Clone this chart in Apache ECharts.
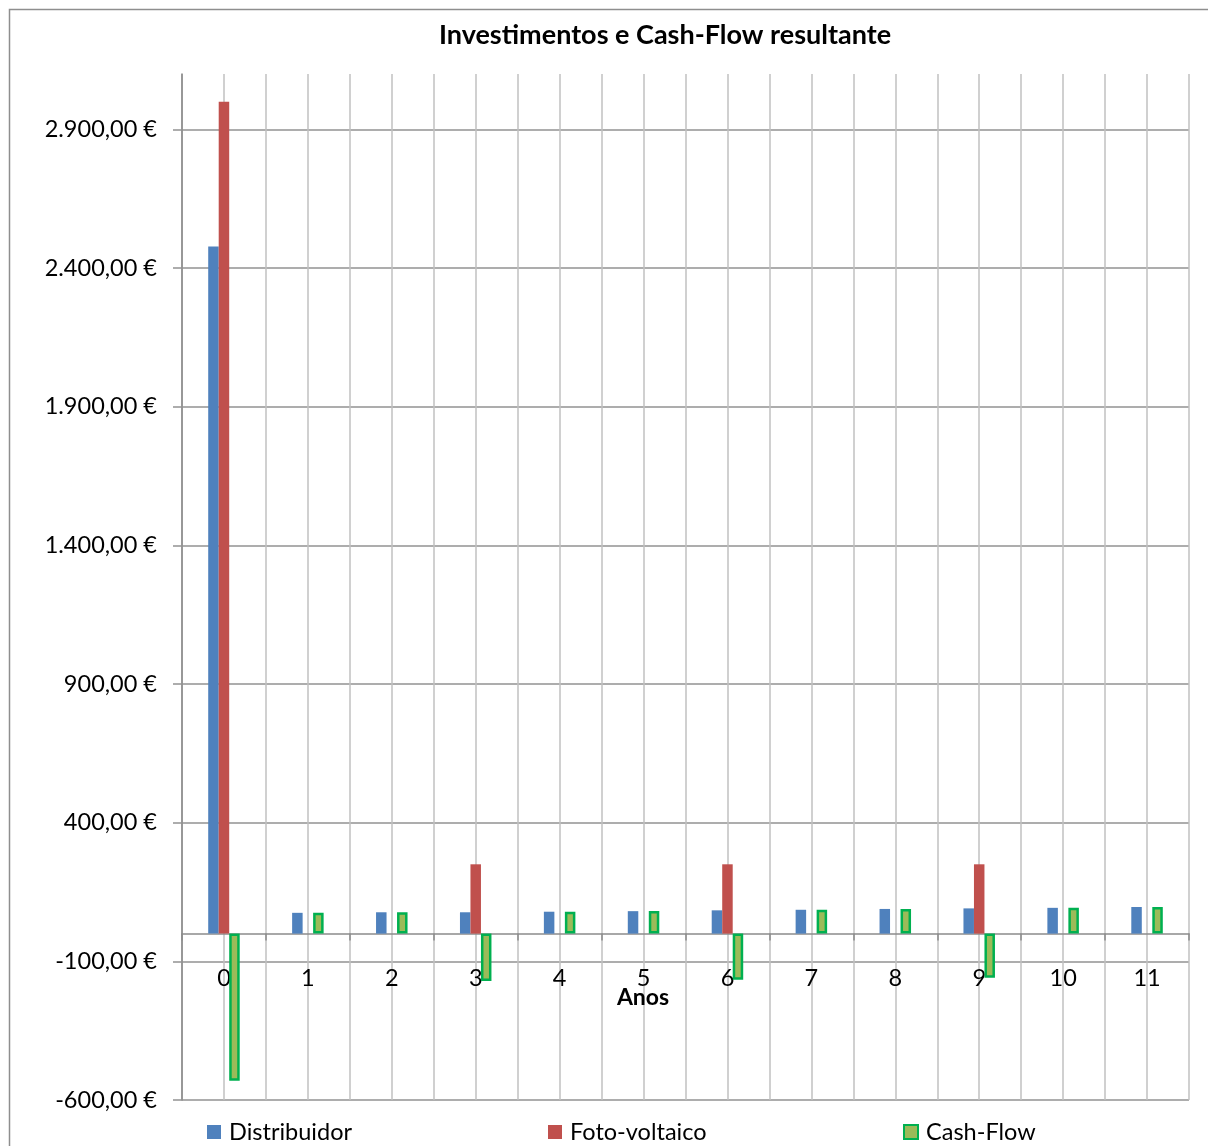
<!DOCTYPE html>
<html><head><meta charset="utf-8">
<script src="https://cdn.jsdelivr.net/npm/echarts@6/dist/echarts.min.js"></script>
<style>html,body{margin:0;padding:0;background:#fff}#c{width:1208px;height:1146px}</style>
</head><body><div id="c"></div>
<script>
const years = ['0','1','2','3','4','5','6','7','8','9','10','11'];
const distribuidor = [2478, 75, 77, 77, 79, 81, 84, 86, 89, 91, 93, 96];
const fotovoltaico = [3000, 0, 0, 250, 0, 0, 250, 0, 0, 250, 0, 0];
const cashFlow = [-531, 75, 77, -171, 79, 82, -166, 86, 89, -159, 93, 96];
const yTicks = [-600, -100, 400, 900, 1400, 1900, 2400, 2900];
const seriesNames = ['Distribuidor', 'Foto-voltaico', 'Cash-Flow'];

const FONT = 'Lato, "Open Sans", sans-serif';
function eur(v) {
  const s = Math.abs(v).toFixed(2).split('.');
  const intPart = s[0].replace(/\B(?=(\d{3})+(?!\d))/g, '.');
  return (v < 0 ? '-' : '') + intPart + ',' + s[1] + ' €';
}
const chart = echarts.init(document.getElementById('c'));
const legendBase = {icon: 'rect', itemWidth: 14, itemHeight: 14, top: 1115,
  textStyle: {fontFamily: FONT, fontSize: 23.5, color: '#000', padding: [0, 0, 0, 3]}};
chart.setOption({
  animation: false,
  backgroundColor: '#fff',
  title: {text: 'Investimentos e Cash-Flow resultante', left: 660, top: 17, textAlign: 'center',
    textStyle: {fontFamily: FONT, fontSize: 27, fontWeight: 'bold', color: '#000'}},
  graphic: [{type: 'rect', shape: {x: 9.5, y: 9.5, width: 1230, height: 1170},
    style: {fill: 'none', stroke: '#8e8e8e', lineWidth: 1.5}, silent: true}],
  grid: {left: 182, right: 19, top: 74, bottom: 46, outerBoundsMode: 'none', containLabel: false},
  legend: [
    Object.assign({data: [seriesNames[0]], left: 202}, legendBase),
    Object.assign({data: [seriesNames[1]], left: 543}, legendBase),
    Object.assign({data: [seriesNames[2]], left: 898}, legendBase)
  ],
  xAxis: [{
    type: 'category', data: years,
    axisLine: {onZero: true, lineStyle: {color: '#8c8c8c', width: 1.5}},
    axisTick: {show: true, length: 7, lineStyle: {color: '#8c8c8c', width: 1.5}},
    axisLabel: {interval: 0, margin: -134, fontFamily: FONT, fontSize: 23.5, color: '#000'},
    splitLine: {show: false},
    name: 'Anos', nameLocation: 'middle', nameGap: -114, nameMoveOverlap: false,
    nameTextStyle: {fontFamily: FONT, fontSize: 23, fontWeight: 'bold', color: '#000', padding: [0, 85, 0, 0]}
  }, {
    type: 'value', min: 0, max: 24, interval: 1, position: 'top',
    axisLine: {show: false, onZero: false}, axisTick: {show: false}, axisLabel: {show: false},
    splitLine: {show: true, lineStyle: {color: '#c0c0c0', width: 1.5}}
  }],
  yAxis: {
    type: 'value', min: -600, max: 3100, interval: 500,
    axisLine: {show: true, lineStyle: {color: '#868686', width: 1.5}},
    axisTick: {show: true, length: 9, customValues: yTicks, lineStyle: {color: '#929292', width: 1.5}},
    axisLabel: {customValues: yTicks, margin: 25, formatter: eur,
      fontFamily: FONT, fontSize: 23.5, color: '#000'},
    splitLine: {show: true, lineStyle: {color: '#929292', width: 1.5}}
  },
  series: [
    {name: seriesNames[0], type: 'bar', data: distribuidor, barWidth: 10.5, barGap: '0%',
      itemStyle: {color: '#4f81bd'}},
    {name: seriesNames[1], type: 'bar', data: fotovoltaico, barWidth: 10.5, barGap: '0%',
      itemStyle: {color: '#c0504d'}},
    {name: seriesNames[2], type: 'bar', data: cashFlow, barWidth: 10.5, barGap: '0%',
      itemStyle: {color: '#9bbb59', borderColor: '#00b050', borderWidth: 2.5}}
  ]
});
</script>
</body></html>
